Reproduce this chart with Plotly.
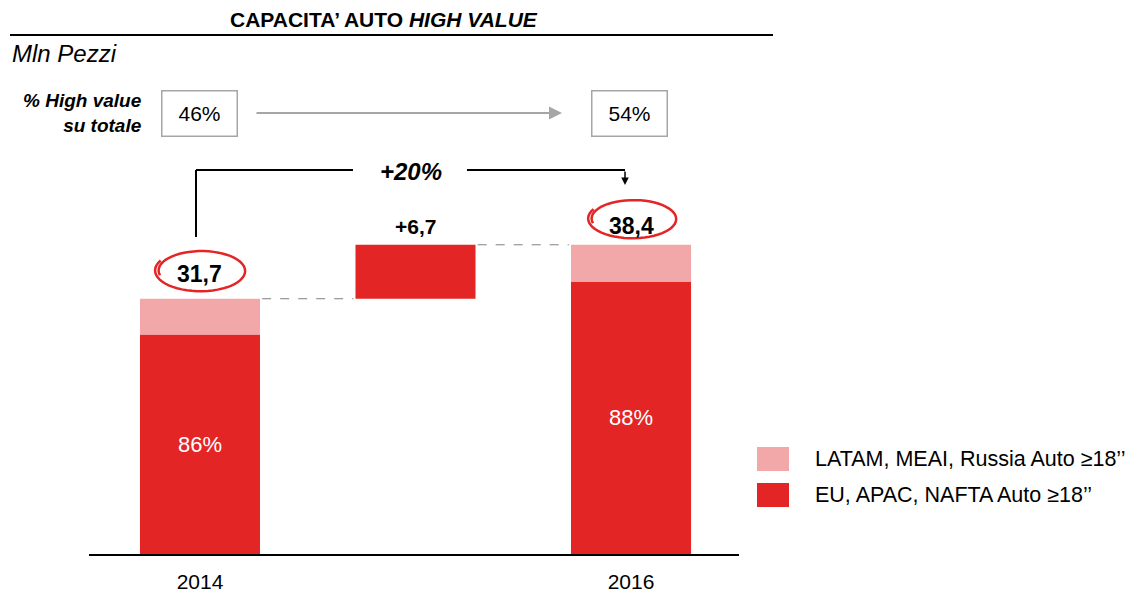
import math
import plotly.graph_objects as go

# ---------------- data ----------------
years = ["2014", "2016"]
year_pos = [0, 2]
totals = [31.7, 38.4]                 # Mln pezzi
eu_share = [0.86, 0.88]               # EU, APAC, NAFTA share of total
delta_value = 6.7
delta_pos = 1
growth_label = "+20%"
high_value_share = ["46%", "54%"]     # % High value su totale
series_names = ["LATAM, MEAI, Russia Auto ≥18’’", "EU, APAC, NAFTA Auto ≥18’’"]

eu_vals = [t * s for t, s in zip(totals, eu_share)]
latam_vals = [t - e for t, e in zip(totals, eu_vals)]

RED = "#E32526"
PINK = "#F2A8A8"
GREY = "#A6A6A6"
FONT = "Liberation Sans, Arial, sans-serif"

W, H = 1141, 593
ML, MR, MT, MB = 89, 402, 0, 39
PW, PH = W - ML - MR, H - MT - MB
X_RANGE = [-0.515, 2.501]
Y_RANGE = [0, 68.8]
BW = 0.557

def xp(px):  # pixel -> paper x
    return (px - ML) / PW

def yp(py):  # pixel -> paper y
    return (H - MB - py) / PH

x_unit = PW / (X_RANGE[1] - X_RANGE[0])
y_unit = PH / (Y_RANGE[1] - Y_RANGE[0])

def fmt(v):
    return f"{v:.1f}".replace(".", ",")

fig = go.Figure()
fig.add_trace(go.Bar(x=year_pos, y=eu_vals, base=[0, 0], width=BW,
                     marker=dict(color=RED, line=dict(width=0)),
                     name=series_names[1], showlegend=False, hoverinfo="skip"))
fig.add_trace(go.Bar(x=year_pos, y=latam_vals, base=eu_vals, width=BW,
                     marker=dict(color=PINK, line=dict(width=0)),
                     name=series_names[0], showlegend=False, hoverinfo="skip"))
fig.add_trace(go.Bar(x=[delta_pos], y=[delta_value], base=[totals[0]], width=BW,
                     marker=dict(color=RED, line=dict(width=0)),
                     showlegend=False, hoverinfo="skip"))

ann = []
shapes = []

def A(**kw):
    kw.setdefault("xanchor", "center")
    kw.setdefault("yanchor", "middle")
    kw.setdefault("showarrow", False)
    ann.append(kw)

# share labels inside red bars
for xpos, e, s in zip(year_pos, eu_vals, eu_share):
    A(x=xpos, y=e / 2, xref="x", yref="y",
      text=f"{round(s*100)}%", font=dict(size=22, color="white", family=FONT))

# totals labels + hand-drawn ellipses
label_shift = [25, 19]
ell = [dict(dx=1, dy=3, rx=44, ry=20), dict(dx=2, dy=7, rx=43, ry=19)]
for xpos, t, ys, e in zip(year_pos, totals, label_shift, ell):
    A(x=xpos, y=t, xref="x", yref="y", yshift=ys, text=f"<b>{fmt(t)}</b>",
      font=dict(size=23, color="black", family=FONT))
    cx = xpos + e["dx"] / x_unit
    cy = t + (ys + e["dy"]) / y_unit
    pts = []
    n = 60
    t0 = 2.9
    span = 2 * math.pi + 0.75
    for i in range(n + 1):
        a = t0 + span * i / n
        grow = 0.96 + 0.09 * i / n
        px = e["rx"] * grow * math.cos(a)
        py = e["ry"] * grow * math.sin(a)
        pts.append((cx + px / x_unit, cy - py / y_unit))
    path = "M " + " L ".join(f"{a:.4f},{b:.4f}" for a, b in pts)
    shapes.append(dict(type="path", xref="x", yref="y", path=path,
                       line=dict(color=RED, width=2.5)))

# delta label
A(x=delta_pos, y=totals[0] + delta_value, xref="x", yref="y", yshift=18,
  text=f"<b>+{fmt(delta_value)}</b>", font=dict(size=21, color="black", family=FONT))

# dashed connectors
shapes.append(dict(type="line", xref="x", yref="y", x0=year_pos[0] + BW / 2 + 0.01,
                   x1=delta_pos - BW / 2 - 0.01, y0=totals[0], y1=totals[0],
                   line=dict(color="#7F7F7F", width=1, dash="dash")))
shapes.append(dict(type="line", xref="x", yref="y", x0=delta_pos + BW / 2 + 0.01,
                   x1=year_pos[1] - BW / 2 - 0.01, y0=totals[1], y1=totals[1],
                   line=dict(color="#7F7F7F", width=1, dash="dash")))

# growth bracket
bx0, bx1, by, byl = 196, 625, 170, 237
shapes.append(dict(type="line", xref="paper", yref="paper", x0=xp(bx0), x1=xp(bx0),
                   y0=yp(byl), y1=yp(by), line=dict(color="black", width=2)))
shapes.append(dict(type="line", xref="paper", yref="paper", x0=xp(bx0), x1=xp(353),
                   y0=yp(by), y1=yp(by), line=dict(color="black", width=2)))
shapes.append(dict(type="line", xref="paper", yref="paper", x0=xp(467), x1=xp(bx1),
                   y0=yp(by), y1=yp(by), line=dict(color="black", width=2)))
A(x=xp(bx1), y=yp(185), xref="paper", yref="paper", ax=0, ay=-15,
  showarrow=True, arrowhead=2, arrowsize=1, arrowwidth=1.5, arrowcolor="black", text="")
A(x=xp(411), y=yp(172), xref="paper", yref="paper",
  text=f"<b><i>{growth_label}</i></b>", font=dict(size=24, color="black", family=FONT))

# % high value boxes + arrow
for cxp, txt in zip([199, 629], high_value_share):
    A(x=xp(cxp), y=yp(113), xref="paper", yref="paper",
      text=txt, width=72, height=42, borderpad=1, borderwidth=1.5,
      bordercolor=GREY, bgcolor="white", font=dict(size=21, color="black", family=FONT))
A(x=xp(562), y=yp(113), xref="paper", yref="paper", ax=-(562 - 255), ay=0,
  showarrow=True, arrowhead=2, arrowsize=1.3, arrowwidth=2, arrowcolor=GREY, text="")
A(x=xp(144), y=yp(113), xref="paper", yref="paper", xanchor="right", align="right",
  text="<b><i>% High value<br>su totale</i></b>", font=dict(size=19, color="black", family=FONT))

# title and subtitle
A(x=xp(384), y=yp(20), xref="paper", yref="paper",
  text="<b>CAPACITA’ AUTO <i>HIGH VALUE</i></b>", font=dict(size=21, color="black", family=FONT))
shapes.append(dict(type="line", xref="paper", yref="paper", x0=xp(10), x1=xp(773),
                   y0=yp(35), y1=yp(35), line=dict(color="black", width=2)))
A(x=xp(10), y=yp(53), xref="paper", yref="paper", xanchor="left",
  text="<i>Mln Pezzi</i>", font=dict(size=24, color="black", family=FONT))

# custom legend
for (y0, y1), col, name, ty in [((447, 471), PINK, series_names[0], 459),
                                ((483, 507), RED, series_names[1], 495)]:
    shapes.append(dict(type="rect", xref="paper", yref="paper", x0=xp(757), x1=xp(789),
                       y0=yp(y1), y1=yp(y0), fillcolor=col, line=dict(width=0)))
    A(x=xp(813), y=yp(ty), xref="paper", yref="paper", xanchor="left",
      text=name, font=dict(size=21.5, color="black", family=FONT))

fig.update_layout(
    width=W, height=H, margin=dict(l=ML, r=MR, t=MT, b=MB, autoexpand=False),
    plot_bgcolor="white", paper_bgcolor="white",
    barmode="overlay", showlegend=False,
    font=dict(family=FONT, color="black"),
    annotations=ann, shapes=shapes,
    xaxis=dict(range=X_RANGE, tickvals=year_pos, ticktext=years, showline=True,
               linecolor="black", linewidth=2, showgrid=False, zeroline=False,
               ticks="outside", ticklen=8, tickcolor="rgba(0,0,0,0)", automargin=False,
               tickfont=dict(size=21, family=FONT, color="black"), fixedrange=True),
    yaxis=dict(range=Y_RANGE, visible=False, showgrid=False, zeroline=False,
               automargin=False, fixedrange=True),
)

fig.write_html("out.html", config={"displayModeBar": False},
               post_script="document.body.style.margin='0';document.body.style.overflow='hidden';")
